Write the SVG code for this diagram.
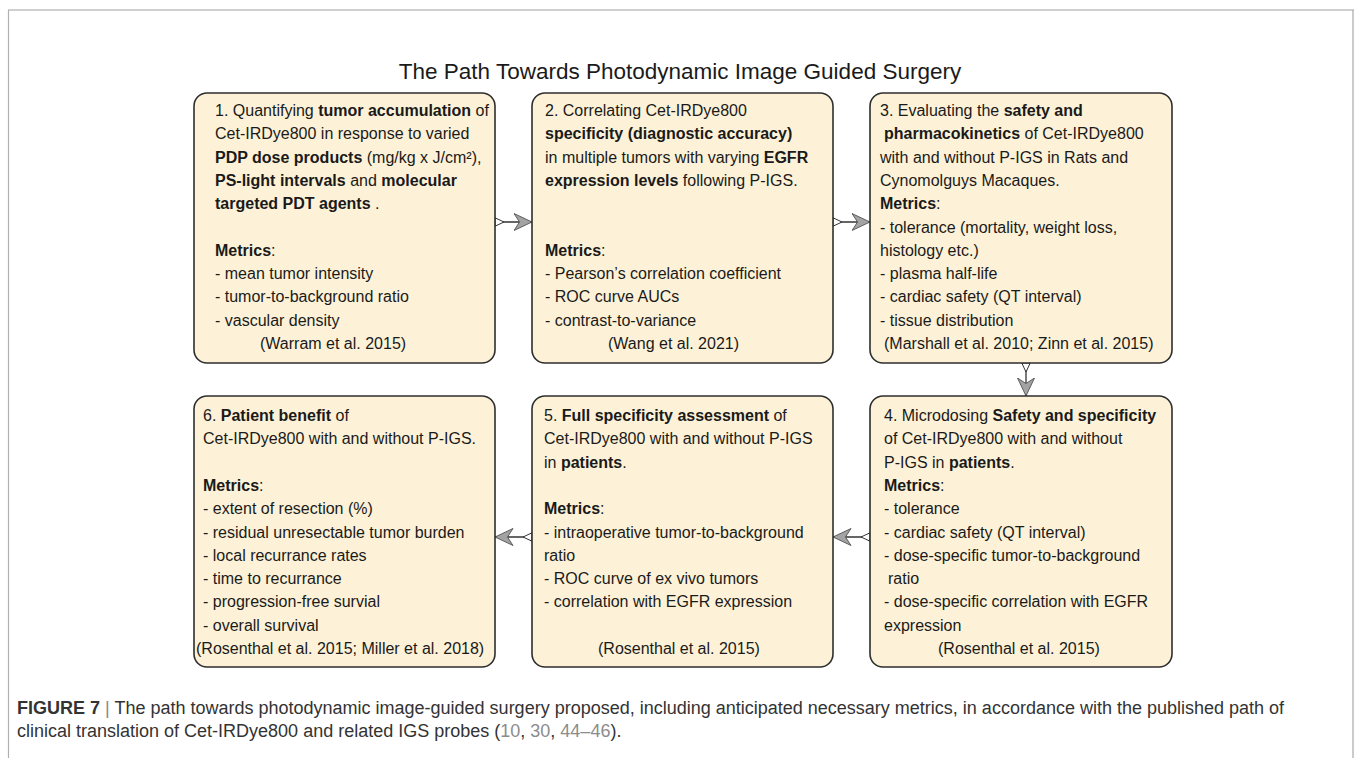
<svg xmlns="http://www.w3.org/2000/svg" width="1354" height="758" viewBox="0 0 1354 758">
<defs>
<style>
.t { font-family: "Liberation Sans", Arial, sans-serif; font-size: 16px; fill: #1a1a1a; }
.b { font-weight: bold; }
.box { fill: #fdf2d7; stroke: #2e2e2e; stroke-width: 1.6; }
.title { font-family: "Liberation Sans", Arial, sans-serif; font-size: 22.5px; fill: #1a1a1a; }
.cap { font-family: "Liberation Sans", Arial, sans-serif; font-size: 18px; fill: #333; }
.ref { fill: #8c8c8c; }
.bar { fill: #888; }
.conn { stroke: #333; stroke-width: 1.3; fill: none; marker-start: url(#tri); marker-end: url(#arr); }
</style>
<marker id="tri" viewBox="0 0 10 10" refX="0.5" refY="5" markerWidth="10" markerHeight="10" markerUnits="userSpaceOnUse" orient="auto">
<path d="M0.5,0.8 L9.5,5 L0.5,9.2 Z" fill="#fff" stroke="#333" stroke-width="1"/>
</marker>
<marker id="arr" viewBox="0 0 19 19" refX="18.5" refY="9.5" markerWidth="19" markerHeight="19" markerUnits="userSpaceOnUse" orient="auto">
<path d="M18.5,9.5 L0.5,1 L6,9.5 L0.5,18 Z" fill="#a3a3a3" stroke="#444" stroke-width="0.8"/>
</marker>
</defs>
<rect x="0" y="0" width="1354" height="758" fill="#fff"/>
<g id="frame">
<line x1="8" y1="10" x2="1354" y2="10" stroke="#d0d0d0" stroke-width="2"/>
<line x1="8.5" y1="10" x2="8.5" y2="758" stroke="#b0b0b0" stroke-width="1.2"/>
<line x1="1353" y1="10" x2="1353" y2="758" stroke="#a8a8a8" stroke-width="1.2"/>
</g>
<text class="title" x="680" y="79" text-anchor="middle">The Path Towards Photodynamic Image Guided Surgery</text>

<g id="connectors">
<path class="conn" d="M495,222 H532"/>
<path class="conn" d="M833,222 H870"/>
<path class="conn" d="M1026,363 V396"/>
<path class="conn" d="M870,537 H833"/>
<path class="conn" d="M532,537 H495"/>
</g>

<g id="node1">
<rect class="box" x="194" y="93" width="301" height="270" rx="13"/>
<text class="t" x="215" y="116">1. Quantifying <tspan class="b">tumor accumulation</tspan> of</text>
<text class="t" x="215" y="139.3">Cet-IRDye800 in response to varied</text>
<text class="t" x="215" y="162.6"><tspan class="b">PDP dose products</tspan> (mg/kg x J/cm²),</text>
<text class="t" x="215" y="185.9"><tspan class="b">PS-light intervals</tspan> and <tspan class="b">molecular</tspan></text>
<text class="t" x="215" y="209.2"><tspan class="b">targeted PDT agents</tspan> .</text>
<text class="t" x="215" y="255.8"><tspan class="b">Metrics</tspan>:</text>
<text class="t" x="215" y="279.1">- mean tumor intensity</text>
<text class="t" x="215" y="302.4">- tumor-to-background ratio</text>
<text class="t" x="215" y="325.7">- vascular density</text>
<text class="t" x="260" y="349">(Warram et al. 2015)</text>
</g>

<g id="node2">
<rect class="box" x="532" y="93" width="301" height="270" rx="13"/>
<text class="t" x="545" y="116">2. Correlating Cet-IRDye800</text>
<text class="t" x="545" y="139.3"><tspan class="b">specificity (diagnostic accuracy)</tspan></text>
<text class="t" x="545" y="162.6">in multiple tumors with varying <tspan class="b">EGFR</tspan></text>
<text class="t" x="545" y="185.9"><tspan class="b">expression levels</tspan> following P-IGS.</text>
<text class="t" x="545" y="255.8"><tspan class="b">Metrics</tspan>:</text>
<text class="t" x="545" y="279.1">- Pearson’s correlation coefficient</text>
<text class="t" x="545" y="302.4">- ROC curve AUCs</text>
<text class="t" x="545" y="325.7">- contrast-to-variance</text>
<text class="t" x="608" y="349">(Wang et al. 2021)</text>
</g>

<g id="node3">
<rect class="box" x="870" y="93" width="302" height="270" rx="13"/>
<text class="t" x="880" y="116">3. Evaluating the <tspan class="b">safety and</tspan></text>
<text class="t" x="884" y="139.3"><tspan class="b">pharmacokinetics</tspan> of Cet-IRDye800</text>
<text class="t" x="880" y="162.6">with and without P-IGS in Rats and</text>
<text class="t" x="880" y="185.9">Cynomolguys Macaques.</text>
<text class="t" x="880" y="209.2"><tspan class="b">Metrics</tspan>:</text>
<text class="t" x="880" y="232.5">- tolerance (mortality, weight loss,</text>
<text class="t" x="880" y="255.8">histology etc.)</text>
<text class="t" x="880" y="279.1">- plasma half-life</text>
<text class="t" x="880" y="302.4">- cardiac safety (QT interval)</text>
<text class="t" x="880" y="325.7">- tissue distribution</text>
<text class="t" x="884" y="349">(Marshall et al. 2010; Zinn et al. 2015)</text>
</g>

<g id="node4">
<rect class="box" x="870" y="396" width="302" height="271" rx="13"/>
<text class="t" x="884" y="421">4. Microdosing <tspan class="b">Safety and specificity</tspan></text>
<text class="t" x="884" y="444.3">of Cet-IRDye800 with and without</text>
<text class="t" x="884" y="467.6">P-IGS in <tspan class="b">patients</tspan>.</text>
<text class="t" x="884" y="490.9"><tspan class="b">Metrics</tspan>:</text>
<text class="t" x="884" y="514.2">- tolerance</text>
<text class="t" x="884" y="537.5">- cardiac safety (QT interval)</text>
<text class="t" x="884" y="560.8">- dose-specific tumor-to-background</text>
<text class="t" x="888" y="584.1">ratio</text>
<text class="t" x="884" y="607.4">- dose-specific correlation with EGFR</text>
<text class="t" x="884" y="630.7">expression</text>
<text class="t" x="938" y="654">(Rosenthal et al. 2015)</text>
</g>

<g id="node5">
<rect class="box" x="532" y="396" width="301" height="271" rx="13"/>
<text class="t" x="544" y="421">5. <tspan class="b">Full specificity assessment</tspan> of</text>
<text class="t" x="544" y="444.3">Cet-IRDye800 with and without P-IGS</text>
<text class="t" x="544" y="467.6">in <tspan class="b">patients</tspan>.</text>
<text class="t" x="544" y="514.2"><tspan class="b">Metrics</tspan>:</text>
<text class="t" x="544" y="537.5">- intraoperative tumor-to-background</text>
<text class="t" x="544" y="560.8">ratio</text>
<text class="t" x="544" y="584.1">- ROC curve of ex vivo tumors</text>
<text class="t" x="544" y="607.4">- correlation with EGFR expression</text>
<text class="t" x="598" y="654">(Rosenthal et al. 2015)</text>
</g>

<g id="node6">
<rect class="box" x="194" y="396" width="301" height="271" rx="13"/>
<text class="t" x="203" y="421">6. <tspan class="b">Patient benefit</tspan> of</text>
<text class="t" x="203" y="444.3">Cet-IRDye800 with and without P-IGS.</text>
<text class="t" x="203" y="490.9"><tspan class="b">Metrics</tspan>:</text>
<text class="t" x="203" y="514.2">- extent of resection (%)</text>
<text class="t" x="203" y="537.5">- residual unresectable tumor burden</text>
<text class="t" x="203" y="560.8">- local recurrance rates</text>
<text class="t" x="203" y="584.1">- time to recurrance</text>
<text class="t" x="203" y="607.4">- progression-free survial</text>
<text class="t" x="203" y="630.7">- overall survival</text>
<text class="t" x="196" y="654">(Rosenthal et al. 2015; Miller et al. 2018)</text>
</g>

<g id="caption">
<text class="cap" x="17" y="714"><tspan class="b">FIGURE 7</tspan> <tspan class="bar">|</tspan> The path towards photodynamic image-guided surgery proposed, including anticipated necessary metrics, in accordance with the published path of</text>
<text class="cap" x="17" y="737">clinical translation of Cet-IRDye800 and related IGS probes (<tspan class="ref">10</tspan>, <tspan class="ref">30</tspan>, <tspan class="ref">44–46</tspan>).</text>
</g>
</svg>
